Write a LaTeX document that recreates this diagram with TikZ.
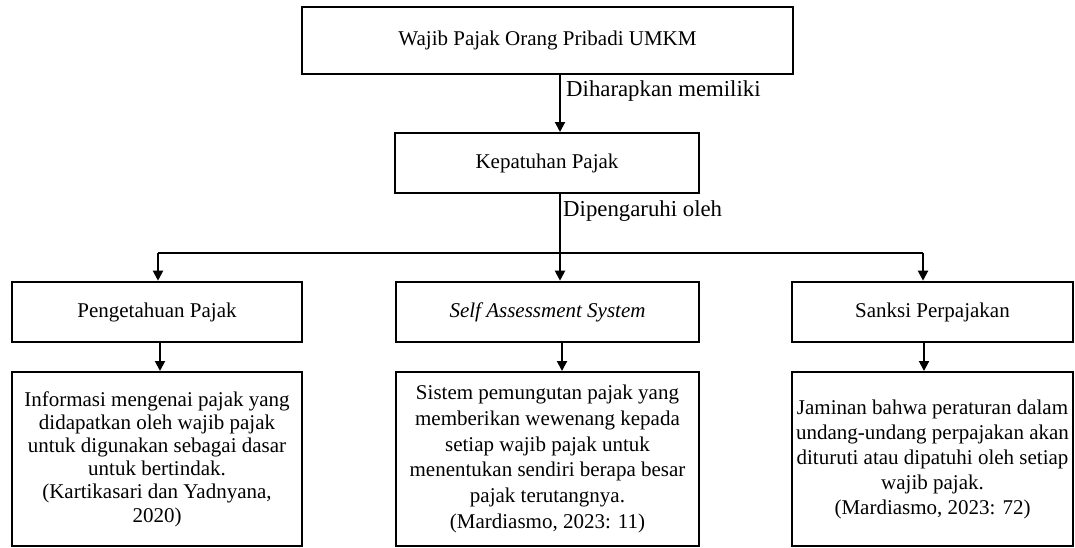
\documentclass[tikz,border=0pt]{standalone}
\usepackage{fontspec}
\setmainfont{Liberation Serif}
\usetikzlibrary{arrows.meta}
\begin{document}
\begin{tikzpicture}[x=1pt,y=-1pt,
  box/.style={draw=black, rectangle, inner sep=0pt, align=center, font=\fontsize{21}{25}\selectfont},
  thick box/.style={box, line width=2.6pt},
  thin box/.style={box, line width=2pt},
  lbl/.style={inner sep=0pt, font=\fontsize{22.8}{27}\selectfont},
  conn/.style={line width=2pt},
  arr/.style={conn, -{Triangle[width=10pt,length=10pt]}}]
\useasboundingbox[fill=white] (0,0) rectangle (1075,547);

% boxes
\node[thick box, minimum width=491pt, minimum height=67pt] (top) at (547.5,40.5) {Wajib Pajak Orang Pribadi UMKM};
\node[thin box, minimum width=304pt, minimum height=60pt] (kep) at (547,163) {Kepatuhan Pajak};

\node[thick box, minimum width=290pt, minimum height=60pt] (r1) at (157,312) {Pengetahuan Pajak};
\node[thick box, minimum width=303pt, minimum height=60pt] (r2) at (547.5,312) {\itshape Self Assessment System};
\node[thick box, minimum width=281pt, minimum height=60pt] (r3) at (932.5,312) {Sanksi Perpajakan};

\node[thin box, minimum width=290pt, minimum height=174pt, font=\fontsize{21}{23.2}\selectfont] (d1) at (157,459)
  {Informasi mengenai pajak yang\\didapatkan oleh wajib pajak\\untuk digunakan sebagai dasar\\untuk bertindak.\\(Kartikasari dan Yadnyana,\\2020)};
\node[thin box, minimum width=303pt, minimum height=174pt, font=\fontsize{21}{25.8}\selectfont] (d2) at (547.5,459)
  {Sistem pemungutan pajak yang\\memberikan wewenang kepada\\setiap wajib pajak untuk\\menentukan sendiri berapa besar\\pajak terutangnya.\\(Mardiasmo, 2023: 11)};
\node[thin box, minimum width=281pt, minimum height=174pt, font=\fontsize{21}{25}\selectfont] (d3) at (932.5,459)
  {Jaminan bahwa peraturan dalam\\undang-undang perpajakan akan\\dituruti atau dipatuhi oleh setiap\\wajib pajak.\\(Mardiasmo, 2023: 72)};

% labels
\node[lbl, anchor=base west] (l1) at (566,96) {Diharapkan memiliki};
\node[lbl, anchor=base west] (l2) at (563,216) {Dipengaruhi oleh};

% connectors
\coordinate (sx) at (560,0);
\draw[arr] (top.south -| sx) -- (kep.north -| sx);
\draw[arr] (kep.south -| sx) -- (r2.north -| sx);
\coordinate (hl) at (158,253);
\coordinate (hr) at (923,253);
\draw[conn] (hl) -- (hr);
\draw[arr] (hl) -- (hl |- r1.north);
\draw[arr] (hr) -- (hr |- r3.north);

\coordinate (a1) at (160,0);
\coordinate (a2) at (562,0);
\coordinate (a3) at (924,0);
\draw[arr] (r1.south -| a1) -- (d1.north -| a1);
\draw[arr] (r2.south -| a2) -- (d2.north -| a2);
\draw[arr] (r3.south -| a3) -- (d3.north -| a3);
\end{tikzpicture}
\end{document}
